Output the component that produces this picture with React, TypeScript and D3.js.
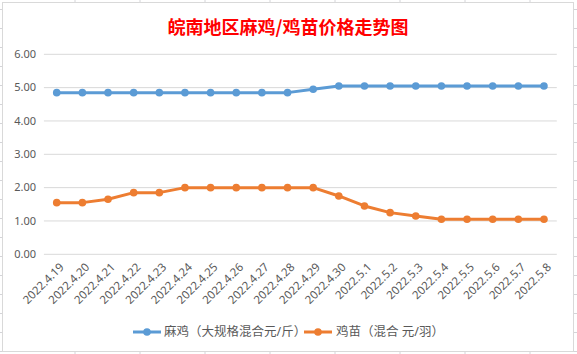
import React from "react";
import * as d3 from "d3";

const categories = [
  "2022.4.19", "2022.4.20", "2022.4.21", "2022.4.22", "2022.4.23", "2022.4.24",
  "2022.4.25", "2022.4.26", "2022.4.27", "2022.4.28", "2022.4.29", "2022.4.30",
  "2022.5.1", "2022.5.2", "2022.5.3", "2022.5.4", "2022.5.5", "2022.5.6",
  "2022.5.7", "2022.5.8",
];
const maJi = [4.85, 4.85, 4.85, 4.85, 4.85, 4.85, 4.85, 4.85, 4.85, 4.85, 4.95, 5.05,
  5.05, 5.05, 5.05, 5.05, 5.05, 5.05, 5.05, 5.05];
const jiMiao = [1.55, 1.55, 1.65, 1.85, 1.85, 2.0, 2.0, 2.0, 2.0, 2.0, 2.0, 1.75,
  1.45, 1.25, 1.15, 1.05, 1.05, 1.05, 1.05, 1.05];
const yTicks = [0, 1, 2, 3, 4, 5, 6];
const seriesNames = ["麻鸡（大规格混合元/斤）", "鸡苗（混合 元/羽）"];
const title = "皖南地区麻鸡/鸡苗价格走势图";

const W = 577, H = 354;
const colors = ["#5B9BD5", "#ED7D31"];

export default function App() {
  const x = d3.scaleBand<string>().domain(categories).range([43.9, 556.8]);
  const y = d3.scaleLinear().domain([0, 6]).range([254.3, 54.3]);
  const cx = (c: string) => (x(c) as number) + x.bandwidth() / 2;
  const line = d3.line<number>().x((_, i) => cx(categories[i])).y((d) => y(d));
  const series = [maJi, jiMiao];
  const font = "'Noto Sans', 'Noto Sans CJK SC', sans-serif";
  const outerTicksY = d3.range(9.5, H, 19);
  const outerTicksX = d3.range(75, W, 65);

  return (
    <svg width={W} height={H} style={{ position: "absolute", left: 0, top: 0, background: "#fff" }}>
      {outerTicksY.map((t) => (
        <g key={"oy" + t}>
          <line x1={0} x2={2} y1={t} y2={t} stroke="#d4d4d8" />
          <line x1={574} x2={577} y1={t} y2={t} stroke="#d4d4d8" />
        </g>
      ))}
      {outerTicksX.map((t) => (
        <g key={"ox" + t}>
          <line x1={t} x2={t} y1={0} y2={2} stroke="#d4d4d8" />
          <line x1={t} x2={t} y1={352} y2={354} stroke="#d4d4d8" />
        </g>
      ))}
      <rect x={2.5} y={2.5} width={571} height={349} fill="#fff" stroke="#d9d9d9" />
      <text x={288} y={34} textAnchor="middle" fill="#FF0000" fontSize={18} fontWeight="bold"
        fontFamily="'Noto Sans CJK SC', serif">{title}</text>
      {yTicks.map((t) => (
        <g key={t}>
          <line x1={43.9} x2={556.8} y1={y(t)} y2={y(t)} stroke="#d9d9d9" strokeWidth={1} />
          <text x={36} y={y(t)} dy="0.35em" textAnchor="end" fontSize={11} fill="#595959" fontFamily={font}>
            {d3.format(".2f")(t)}
          </text>
        </g>
      ))}
      {categories.map((c) => (
        <text key={c} transform={`translate(${cx(c) + 5},${265}) rotate(-45)`} textAnchor="end"
          fontSize={11.5} fill="#595959" fontFamily={font} dy="0.35em">{c}</text>
      ))}
      {series.map((s, si) => (
        <g key={si}>
          <path d={line(s) as string} fill="none" stroke={colors[si]} strokeWidth={3} strokeLinejoin="round" />
          {s.map((v, i) => (
            <circle key={i} cx={cx(categories[i])} cy={y(v)} r={3.8} fill={colors[si]} />
          ))}
        </g>
      ))}
      {[{ lx: 133, tx: 164 }, { lx: 304, tx: 336 }].map((p, i) => (
        <g key={i}>
          <line x1={p.lx} x2={p.lx + 28} y1={332} y2={332} stroke={colors[i]} strokeWidth={3} />
          <circle cx={p.lx + 14} cy={332} r={3.8} fill={colors[i]} />
          <text x={p.tx} y={332} dy="0.35em" fontSize={12.5} fill="#595959" fontFamily={font}>{seriesNames[i]}</text>
        </g>
      ))}
    </svg>
  );
}
